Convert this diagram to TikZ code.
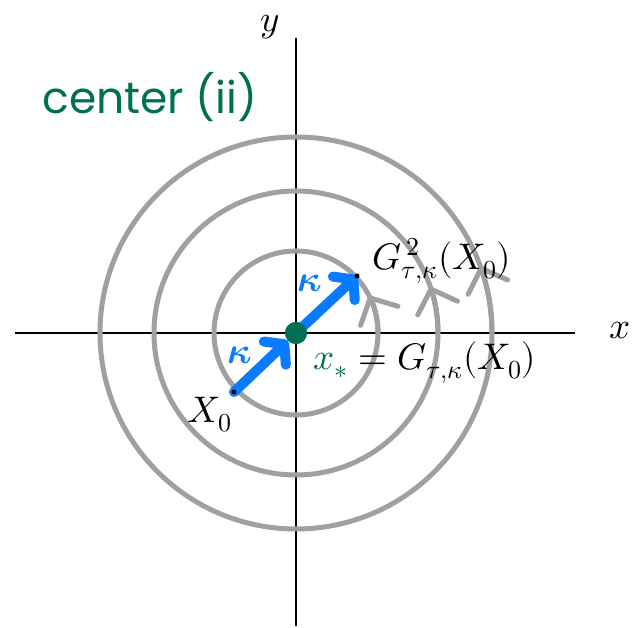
\documentclass[tikz,border=0pt]{standalone}
\usepackage{fontspec}
\usepackage{unicode-math}
\setmathfont{Latin Modern Math}
\newfontfamily\handfont{Poppins}
\usetikzlibrary{arrows.meta}
\definecolor{ringgray}{RGB}{160,160,160}
\definecolor{stepblue}{RGB}{10,122,255}
\definecolor{fixgreen}{RGB}{0,112,82}

\begin{document}
\begin{tikzpicture}[x=1pt,y=1pt,
	axis/.style={line width=2pt},
	ring/.style={ringgray, line width=5pt},
	ringtip/.style={ring, -{Straight Barb[length=20pt,width=42pt,round]}},
	kstep/.style={stepblue, line width=10pt, line cap=round,
		-{Straight Barb[length=13pt,width=32pt,round]}},
	lbl/.style={font=\fontsize{37}{42}\selectfont}]
	\useasboundingbox (-296,-295) rectangle (347,333);
	%% axes
	\coordinate (xl) at (-281,0);
	\coordinate (xr) at (279,0);
	\coordinate (yb) at (0,-293);
	\coordinate (yt) at (0,295);
	\draw[axis] (xl) -- (xr);
	\draw[axis] (yb) -- (yt);
	\node[lbl] (xlab) at (324,2) {$x$};
	\node[lbl, inner sep=0pt] (ylab) at (-26,306) {$y$};
	%% the three orbits
	\foreach \r/\a in {82/27, 142/19, 196/20} {
		\draw[ring] (0,0) circle (\r);
		\draw[ringtip] (\r,0) arc (0:\a:\r);
	}
	%% the two steps
	\coordinate (xzero) at (-62,-59);
	\coordinate (gtwo) at (61,57);
	\node[circle, fill=fixgreen, inner sep=0pt, minimum size=22pt] (xstar) at (0,0) {};
	\draw[kstep] (xzero) -- (xstar);
	\draw[kstep] (xstar.center) -- (gtwo);
	\fill[fixgreen] (xstar) circle (11pt);
	\fill (xzero) circle (2.5pt);
	\fill (gtwo) circle (2.5pt);
	\node[lbl, stepblue] (kup) at (14,50) {$\symbf{\kappa}$};
	\node[lbl, stepblue] (klow) at (-56,-22) {$\symbf{\kappa}$};
	%% labels
	\node[lbl] (xzlab) at (-86,-82) {$X_0$};
	\node[lbl] (gtlab) at (146,72) {$G^{\,2}_{\tau,\kappa}(X_0)$};
	\node[lbl, anchor=west] (fixlab) at (14,-30) {$\color{fixgreen}x_*\color{black} = G_{\tau,\kappa}(X_0)$};
	\node[fixgreen, font=\handfont\fontsize{44}{50}\selectfont] (title) at (-146,236) {center (ii)};
\end{tikzpicture}
\end{document}
